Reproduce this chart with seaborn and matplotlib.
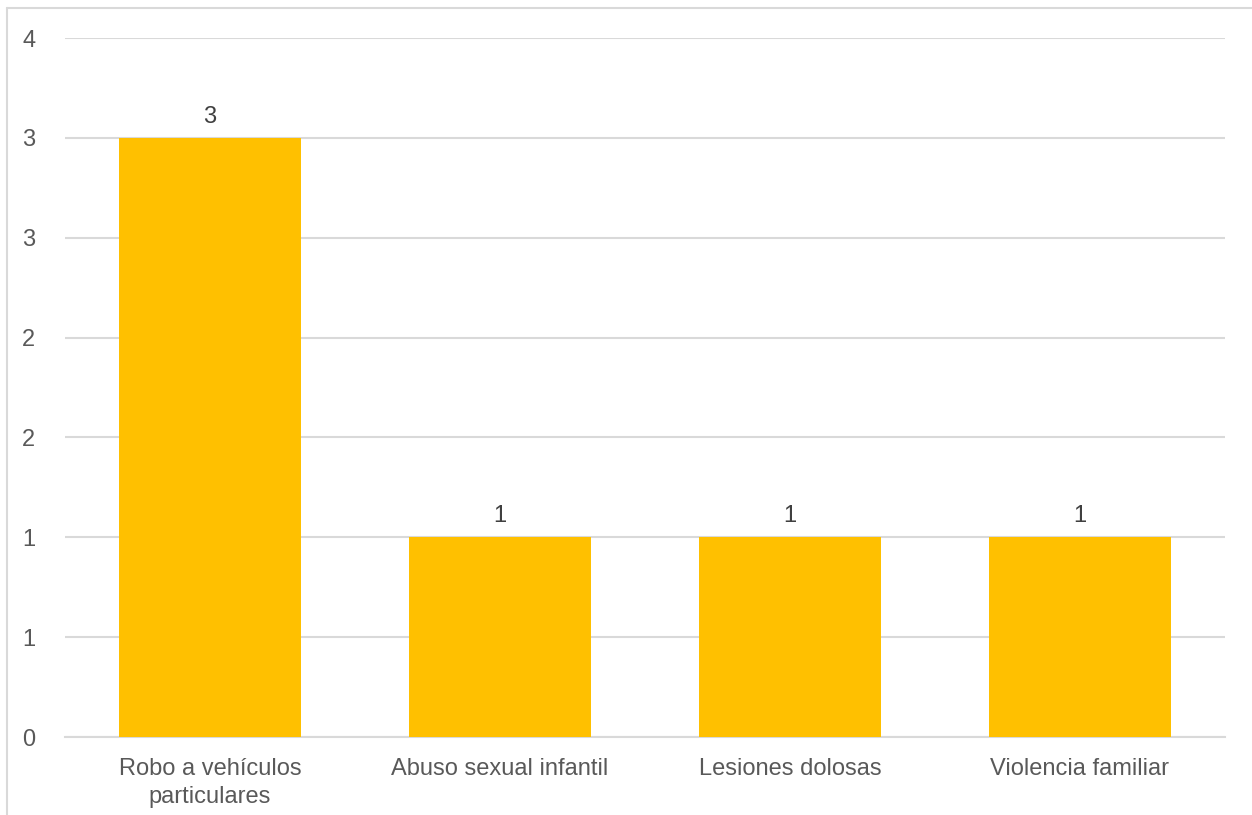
import seaborn as sns
import matplotlib.pyplot as plt
from matplotlib.lines import Line2D
from matplotlib.ticker import FixedLocator, FixedFormatter

# Categories and counts
categories = ["Robo a vehículos\nparticulares", "Abuso sexual infantil",
              "Lesiones dolosas", "Violencia familiar"]
counts = [3, 1, 1, 1]

# Y ticks every 0.5, labelled rounded like the original (0 decimals)
y_ticks = [0, 0.5, 1, 1.5, 2, 2.5, 3, 3.5]
y_labels = ["0", "1", "1", "2", "2", "3", "3", "4"]

sns.set_style("white")
plt.rcParams['font.family'] = ['Liberation Sans', 'DejaVu Sans']

fig = plt.figure(figsize=(12.52, 8.15), dpi=100)
ax = fig.add_axes([65 / 1252, 1 - 737 / 815, (1225 - 65) / 1252, (737 - 38) / 815])

sns.barplot(x=categories, y=counts, color="#FFC000", width=0.627,
            saturation=1, linewidth=0, ax=ax, zorder=3)

ax.set_xlim(-0.5, 3.5)
ax.set_ylim(0, 3.5)
ax.yaxis.set_major_locator(FixedLocator(y_ticks))
ax.yaxis.set_major_formatter(FixedFormatter(y_labels))
ax.grid(axis="y", color="#d9d9d9", linewidth=1.5, zorder=0)
ax.grid(axis="x", visible=False)
for side in ["top", "right", "left"]:
    ax.spines[side].set_visible(False)
ax.spines["bottom"].set_color("#d9d9d9")
ax.spines["bottom"].set_linewidth(1.5)

ax.tick_params(axis="y", length=0, pad=26, labelsize=17, labelcolor="#595959")
ax.tick_params(axis="x", length=0, pad=15, labelsize=17, labelcolor="#595959")
ax.set_xticks(range(len(categories)))
ax.set_xticklabels(categories, linespacing=1.38)
for lbl in ax.get_yticklabels():
    lbl.set_horizontalalignment("center")
ax.set_xlabel("")
ax.set_ylabel("")

# Data labels
for i, v in enumerate(counts):
    ax.annotate(str(v), (i, v), xytext=(0, 11), textcoords="offset points",
                ha="center", va="baseline", fontsize=17, color="#404040")

# Chart border (top and left visible)
fig.add_artist(Line2D([7 / 1252, 1], [1 - 8 / 815, 1 - 8 / 815],
                      transform=fig.transFigure, color="#d9d9d9", linewidth=1.5))
fig.add_artist(Line2D([7 / 1252, 7 / 1252], [0, 1 - 8 / 815],
                      transform=fig.transFigure, color="#d9d9d9", linewidth=1.5))

fig.savefig("out.png", dpi=100)
